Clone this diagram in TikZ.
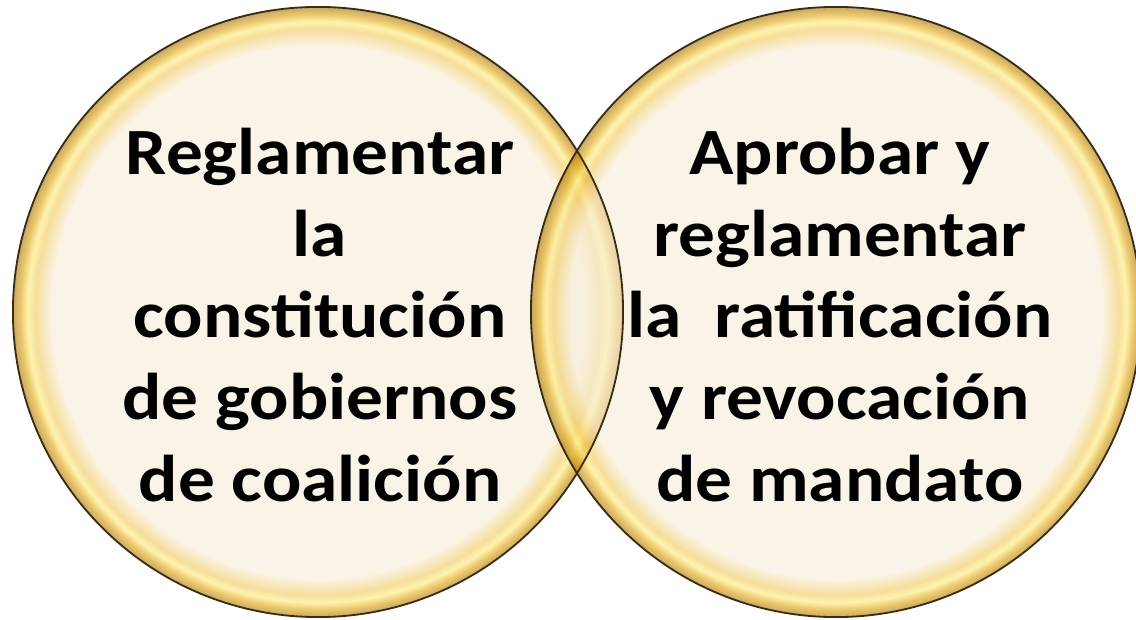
\documentclass[tikz,border=0pt]{standalone}
\usepackage{fontspec}
\setmainfont{Carlito}
\newfontfamily\widefont[FakeStretch=1.11]{Carlito}
\usepackage{tikz}
\usetikzlibrary{positioning}

\definecolor{creamfill}{RGB}{248,238,217}
\definecolor{goldrim}{RGB}{222,163,10}
\definecolor{goldpale}{RGB}{255,235,120}
\definecolor{goldsoft}{RGB}{240,200,90}
\definecolor{golddark}{RGB}{160,110,0}
\definecolor{rimbrown}{RGB}{60,44,16}

% shading box: the path fills -25bp..25bp
\pgfdeclareradialshading{ringglow}{\pgfpoint{0bp}{0bp}}{%
	color(0bp)=(creamfill); color(21.8bp)=(creamfill);
	color(23.2bp)=(goldsoft); color(23.8bp)=(goldpale);
	color(24.4bp)=(goldrim); color(25bp)=(golddark); color(50bp)=(golddark)}

\tikzset{
	ring/.style={circle, inner sep=0pt, outer sep=0pt, minimum size=15.25cm, shading=ringglow, fill opacity=0.6},
	rimline/.style={circle, inner sep=0pt, outer sep=0pt, minimum size=15.25cm, draw=rimbrown, line width=1.3pt},
	words/.style={align=center, font=\widefont\bfseries\fontsize{47}{58}\selectfont},
}

\begin{document}
\begin{tikzpicture}[x=0.025cm, y=0.025cm]
		\useasboundingbox (0,0) rectangle (1136,619);
		\fill[white] (0,0) rectangle (1136,619);
		
		\node (left) [ring] at (318,307) {};
		\node (right) [ring] at (836,307) {};
		\node (leftrim) [rimline] at (left) {};
		\node (rightrim) [rimline] at (right) {};
		
		\node (lefttext) [words] at (320,304) {Reglamentar\\la\\constitución\\de gobiernos\\de coalición};
		\node (righttext) [words] at (840,304) {Aprobar y\\reglamentar\\la~ ratificación\\y revocación\\de mandato};
	\end{tikzpicture}
\end{document}
